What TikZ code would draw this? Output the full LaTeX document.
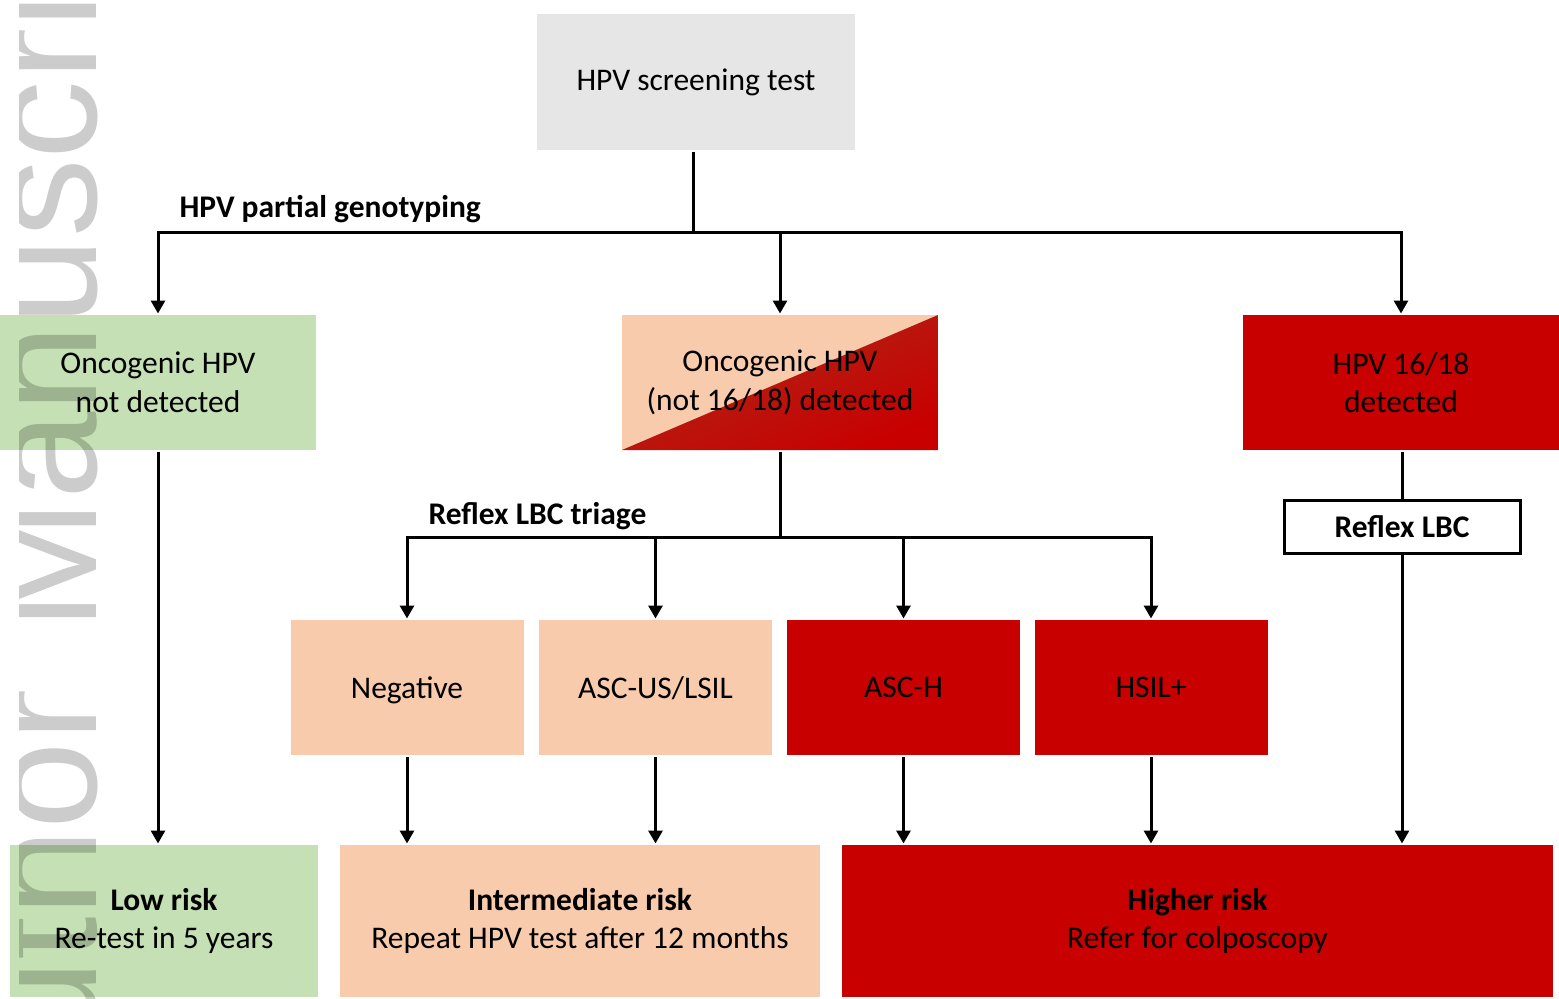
\documentclass[tikz,border=0pt]{standalone}
\usepackage{fontspec}
\setmainfont{Carlito}
\newfontfamily\wmfont{Liberation Sans}
\usetikzlibrary{arrows.meta}
\definecolor{boxgrey}{HTML}{E7E6E6}
\definecolor{riskgreen}{HTML}{C5E0B4}
\definecolor{riskpeach}{HTML}{F8CBAD}
\definecolor{riskred}{HTML}{C80000}
\definecolor{splitred}{HTML}{AC2A1A}
\newcommand{\boxfont}{\fontsize{31.5}{38.5}\selectfont}
\tikzset{
  box/.style={rectangle, inner sep=0pt, align=center, text=black, font=\boxfont},
  toprow/.style={box, minimum width=316pt, minimum height=135pt},
  triage/.style={box, minimum width=233pt, minimum height=135pt, text depth=0pt},
  outcome/.style={box, minimum height=152pt},
  lbl/.style={inner sep=0pt, anchor=west, font=\boxfont\bfseries},
  wmark/.style={rotate=90, inner sep=0pt, text=black, text opacity=0.2, font=\wmfont\fontsize{157}{157}\selectfont}
}
\begin{document}
\begin{tikzpicture}[>={Triangle[length=13pt,width=14pt]}, x=1pt, y=-1pt, line width=3pt]
  \useasboundingbox (0,0) rectangle (1559,999);
  \node[box, fill=boxgrey, minimum width=318pt, minimum height=136pt] (screen) at (696,82) {HPV screening test};
  \node[toprow, fill=riskgreen] (notdet) at (158,382.5) {Oncogenic HPV\\not detected};
  \node[toprow, fill=riskpeach, path picture={
      \shade[top color=splitred, bottom color=riskred, shading angle=23]
        (path picture bounding box.south west) -- (path picture bounding box.north east)
        -- (path picture bounding box.south east) -- cycle;}] (other) at (780,382.5) {Oncogenic HPV\\(not 16/18) detected};
  \node[toprow, fill=riskred] (hpvhigh) at (1401,382.5) {HPV 16/18\\detected};
  \node[box, draw=black, fill=white, minimum width=236pt, minimum height=53pt, font=\boxfont\bfseries] (reflex) at (1402,526.5) {Reflex LBC};
  \node[triage, fill=riskpeach] (neg) at (407,687.5) {Negative};
  \node[triage, fill=riskpeach] (ascus) at (655.5,687.5) {ASC-US/LSIL};
  \node[triage, fill=riskred] (asch) at (903.5,687.5) {ASC-H};
  \node[triage, fill=riskred] (hsil) at (1151,687.5) {HSIL+};
  \node[outcome, fill=riskgreen, minimum width=308pt] (lowrisk) at (164,921) {\textbf{Low risk}\\Re-test in 5 years};
  \node[outcome, fill=riskpeach, minimum width=480pt] (midrisk) at (580,921) {\textbf{Intermediate risk}\\Repeat HPV test after 12 months};
  \node[outcome, fill=riskred, minimum width=711pt] (highrisk) at (1197.5,921) {\textbf{Higher risk}\\Refer for colposcopy};
  \node[lbl] (genolbl) at (178,209) {HPV partial genotyping};
  \node[lbl] (triagelbl) at (427,516) {Reflex LBC triage};
  \coordinate (bus1) at (693,232);
  \coordinate (bus2) at (780,537);
  \draw (bus1 |- screen.south) -- (bus1);
  \draw[->] (bus1) -| (notdet.north);
  \draw[->] (bus1) -| (other.north);
  \draw[->] (bus1) -| (hpvhigh.north);
  \draw (other.south) -- (bus2);
  \foreach \n in {neg,ascus,asch,hsil}
    \draw[->] (bus2) -| (\n.north);
  \draw[->] (notdet.south) -- (notdet.south |- lowrisk.north);
  \foreach \n in {neg,ascus}
    \draw[->] (\n.south) -- (\n.south |- midrisk.north);
  \foreach \n in {asch,hsil}
    \draw[->] (\n.south) -- (\n.south |- highrisk.north);
  \draw (reflex.north |- hpvhigh.south) -- (reflex.north);
  \draw[->] (reflex.south) -- (reflex.south |- highrisk.north);
  \begin{scope}
    \clip (19,0) rectangle (1559,999);
    \node[wmark, anchor=base east] (wmauthor) at (96,688) {Author};
    \node[wmark, anchor=base west] (wmmanu) at (96,632) {Manuscript};
  \end{scope}
\end{tikzpicture}
\end{document}
